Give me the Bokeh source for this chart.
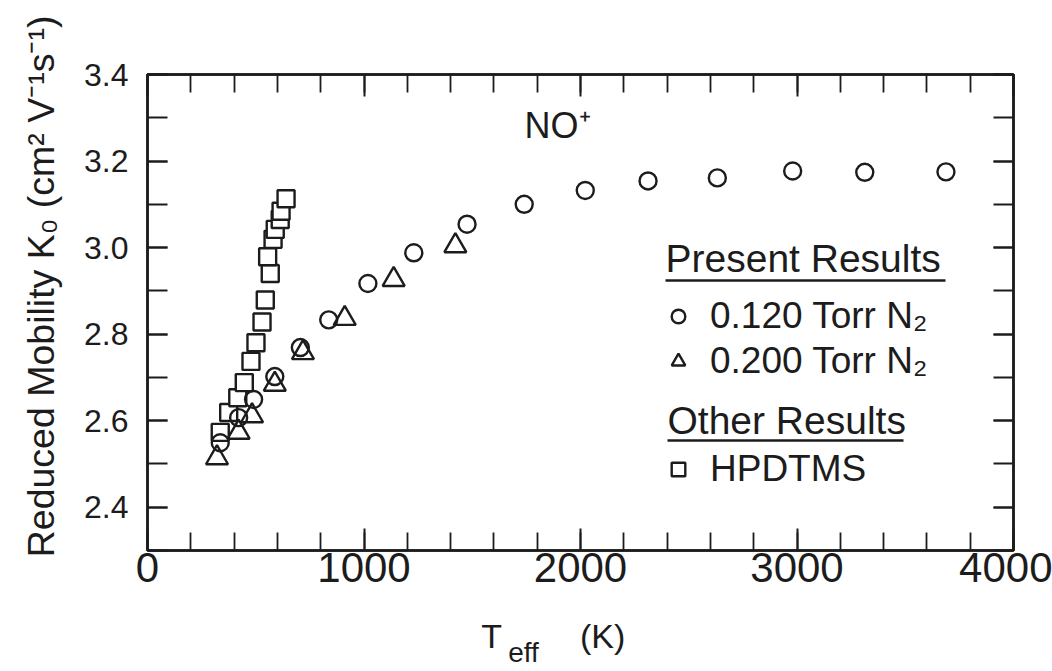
import math

from bokeh.plotting import figure
from bokeh.models import (Range1d, LinearAxis, SingleIntervalTicker, FixedTicker,
                          PrintfTickFormatter, CustomJSTickFormatter, Label, BoxAnnotation,
                          Legend, LegendItem)
from bokeh.embed import file_html
from bokeh.resources import INLINE

# Reduced mobility of NO+ in N2 as a function of effective ion temperature
t_120 = [336, 421, 490, 588, 706, 837, 1018, 1230, 1476, 1740, 2022, 2312, 2632, 2980, 3313, 3688]
k_120 = [2.549, 2.607, 2.649, 2.702, 2.769, 2.833, 2.917, 2.988, 3.054,
         3.100, 3.132, 3.154, 3.161, 3.177, 3.174, 3.175]

t_200 = [321, 421, 483, 588, 718, 911, 1137, 1422]
k_200 = [2.514, 2.573, 2.611, 2.684, 2.757, 2.836, 2.926, 3.004]

t_hpdtms = [336, 375, 417, 447, 478, 501, 529, 544, 567, 555, 580, 590, 613, 617, 640]
k_hpdtms = [2.573, 2.619, 2.653, 2.688, 2.737, 2.780, 2.828, 2.879, 2.940,
            2.979, 3.019, 3.042, 3.065, 3.084, 3.113]

series_labels = ["0.120 Torr N\u2082", "0.200 Torr N\u2082", "HPDTMS"]
y_major_ticks = [2.4, 2.6, 2.8, 3.0, 3.2, 3.4]
y_minor_ticks = [2.3, 2.4, 2.5, 2.6, 2.7, 2.8, 2.9, 3.0, 3.1, 3.2, 3.3, 3.4]
x_major_step = 1000

INK = "#1c1c1c"
FONT = "Liberation Sans"

p = figure(width=1052, height=671, output_backend="svg", toolbar_location=None,
           x_range=Range1d(0, 4000), y_range=Range1d(2.30, 3.40),
           min_border_left=147, min_border_right=39, min_border_top=74, min_border_bottom=121)
p.xgrid.visible = False
p.ygrid.visible = False
p.background_fill_color = "white"
p.border_fill_color = "white"
p.outline_line_color = INK
p.outline_line_width = 2.5

x_ticker = SingleIntervalTicker(interval=x_major_step, num_minor_ticks=5)
y_ticker = FixedTicker(ticks=y_major_ticks, minor_ticks=y_minor_ticks)
blank = CustomJSTickFormatter(code="return ''")


def style_axis(ax, ticker, major_len, minor_len):
    ax.ticker = ticker
    ax.axis_line_color = INK
    ax.axis_line_width = 2.5
    ax.major_tick_in = major_len
    ax.major_tick_out = 0
    ax.minor_tick_in = minor_len
    ax.minor_tick_out = 0
    ax.major_tick_line_color = INK
    ax.major_tick_line_width = 2
    ax.minor_tick_line_color = INK
    ax.minor_tick_line_width = 1.8


xb = p.xaxis[0]
style_axis(xb, x_ticker, 22, 18)
xb.formatter = PrintfTickFormatter(format="%d")
xb.major_label_text_font = FONT
xb.major_label_text_font_size = "42px"
xb.major_label_text_color = INK
xb.major_label_standoff = 2

yl = p.yaxis[0]
style_axis(yl, y_ticker, 20, 20)
yl.formatter = PrintfTickFormatter(format="%.1f")
yl.major_label_text_font = FONT
yl.major_label_text_font_size = "32px"
yl.major_label_text_color = INK
yl.major_label_standoff = 19
yl.major_label_orientation = "horizontal"
# leading no-break spaces lift the centred title a little above the frame middle
yl.axis_label = "\u00a0" * 5 + "Reduced Mobility K\u2080 (cm\u00b2 V\u207b\u00b9s\u207b\u00b9)"
yl.axis_label_text_font = FONT
yl.axis_label_text_font_size = "37.5px"
yl.axis_label_text_font_style = "normal"
yl.axis_label_text_color = INK
yl.axis_label_standoff = 19

# mirrored tick marks on the top and right edges
xt = LinearAxis(formatter=blank)
style_axis(xt, x_ticker, 22, 18)
xt.major_label_standoff = 0
p.add_layout(xt, "above")

yr = LinearAxis(formatter=blank)
style_axis(yr, y_ticker, 20, 20)
yr.major_label_standoff = 0
p.add_layout(yr, "right")


# x title "T_eff (K)": main symbol and unit on one row, subscript row tucked under it
def text_row(positions, texts, size, standoff):
    ax = LinearAxis(ticker=FixedTicker(ticks=positions, minor_ticks=[]),
                    major_label_overrides=dict(zip(positions, texts)))
    ax.axis_line_color = None
    ax.major_tick_line_color = None
    ax.minor_tick_line_color = None
    ax.major_tick_in = 0
    ax.major_tick_out = 0
    ax.major_label_text_font = FONT
    ax.major_label_text_font_size = size
    ax.major_label_text_color = INK
    ax.major_label_standoff = standoff
    p.add_layout(ax, "below")


text_row([1589, 2102], ["T", "(K)"], "34px", 32)
text_row([1737], ["eff"], "28px", -21)

# data
r_hp = p.scatter(t_hpdtms, k_hpdtms, marker="square", size=17, fill_color="white",
                 line_color=INK, line_width=2.4)
r_200 = p.scatter(t_200, k_200, marker="triangle", size=22, fill_color=None,
                  line_color=INK, line_width=2.4)
r_120 = p.scatter(t_120, k_120, marker="circle", size=17, fill_color=None,
                  line_color=INK, line_width=2.4)


def make_legend(items, loc):
    return Legend(items=items, location=loc, border_line_color=None,
                  background_fill_alpha=0, padding=0, margin=0, spacing=3,
                  glyph_width=34, glyph_height=34, label_standoff=15,
                  label_text_font=FONT, label_text_font_size="37px",
                  label_text_color=INK)


p.add_layout(make_legend([LegendItem(label=series_labels[0], renderers=[r_120]),
                          LegendItem(label=series_labels[1], renderers=[r_200])], (514, 168)))
p.add_layout(make_legend([LegendItem(label=series_labels[2], renderers=[r_hp])], (514, 60)))


def screen_label(x, y, text, size):
    p.add_layout(Label(x=x, y=y, x_units="screen", y_units="screen", text=text,
                       text_font=FONT, text_font_size=size, text_color=INK,
                       text_align="left", text_baseline="alphabetic"))


def underline(x0, x1, y):
    p.add_layout(BoxAnnotation(left=x0, right=x1, bottom=y - 1.3, top=y + 1.3,
                               left_units="screen", right_units="screen",
                               top_units="screen", bottom_units="screen",
                               fill_color=INK, fill_alpha=1, line_color=None))


# legend headings
screen_label(518, 292, "Present Results", "39px")
underline(518, 798, 270)
screen_label(520, 130, "Other Results", "39px")
underline(520, 756, 110)

# ion label
screen_label(377, 425, "NO\u207a", "36px")

open("out.html", "w").write(file_html(p, INLINE))
